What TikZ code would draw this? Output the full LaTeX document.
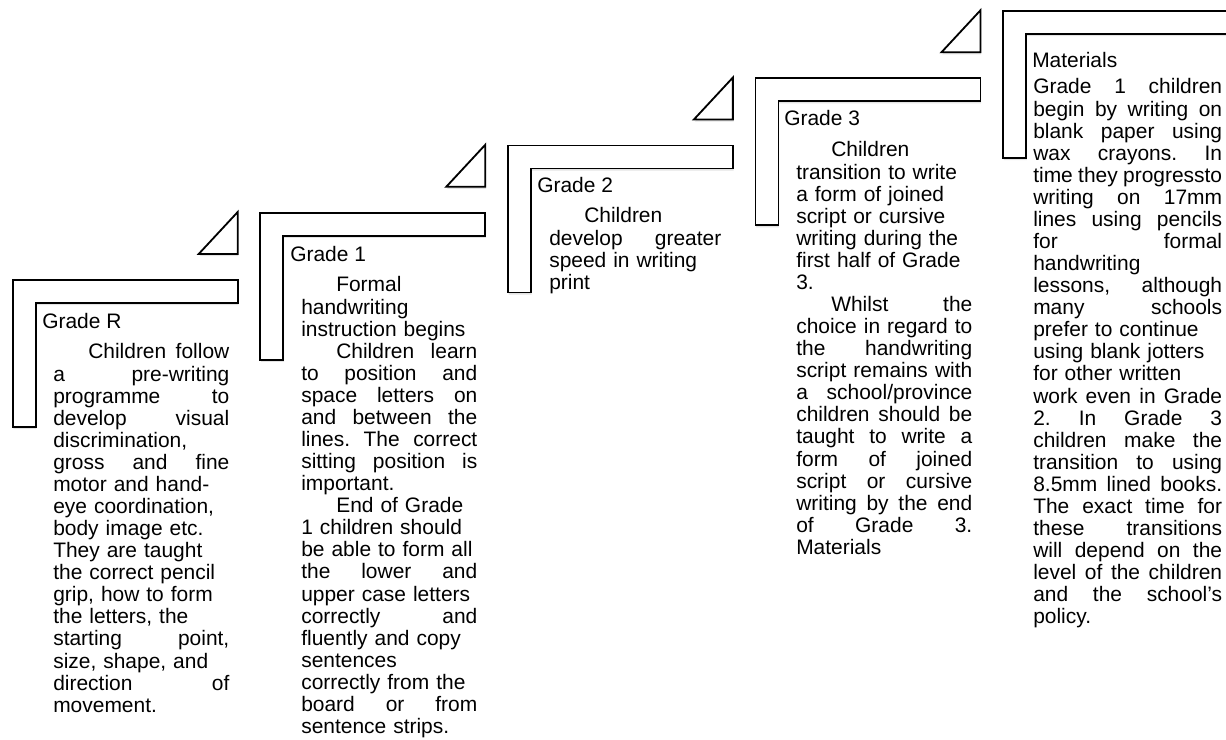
\documentclass[tikz,border=0pt]{standalone}
\usepackage{fontspec}
\setmainfont{Liberation Sans}
\usepackage{xcolor}
\usepackage{tikz}
\usetikzlibrary{shadows}

\newcommand{\gfont}{\fontsize{14.9pt}{15.7pt}\selectfont\frenchspacing}
\newlength{\bw}
\newcommand{\jl}[1]{{\spaceskip=0pt\relax\xspaceskip=0pt\relax\makebox[\bw][s]{#1}}}
\newlength{\ind}
\setlength{\ind}{0.875cm}

\tikzset{
  corner/.style={draw, line width=1.3pt, fill=white, line join=miter,
    drop shadow={opacity=0.22, shadow xshift=0.5pt, shadow yshift=-1.6pt}},
  ttl/.style={inner sep=0pt, anchor=base west, font=\gfont},
  bdy/.style={ttl, text width=#1, align=left,
    execute at begin node={\setlength{\bw}{#1}}},
  bdy/.default=4.4cm,
}

\begin{document}
\begin{tikzpicture}[x=0.025cm, y=-0.025cm]
  \useasboundingbox (0,0) rectangle (1226,740);
  \clip (0,0) rectangle (1226,740);

  \foreach \i in {0,...,4} {
    \pgfmathsetmacro\xo{12.7+247.6*\i}
    \pgfmathsetmacro\yo{280-67.25*\i}
    \draw[corner] (\xo,\yo) -- ++(225,0) -- ++(0,23) -- ++(-202,0) -- ++(0,124) -- ++(-23,0) -- cycle;
  }
  \foreach \i in {0,...,3} {
    \pgfmathsetmacro\xo{12.7+247.6*\i}
    \pgfmathsetmacro\yo{280-67.25*\i}
    \draw[corner] (\xo+225,\yo-26) -- ++(0,-42) -- ++(-39,42) -- cycle;
  }

  % Grade R
  \node[ttl] (tR) at (42,329) {Grade R};
  \node[bdy] (bR) at (53,359) {\jl{\hspace*{\ind}Children follow}\\
    \jl{a pre-writing}\\
    \jl{programme to}\\
    \jl{develop visual}\\
    discrimination,\\
    \jl{gross and fine}\\
    motor and hand-\\
    eye coordination,\\
    body image etc.\\
    They are taught\\
    the correct pencil\\
    grip, how to form\\
    the letters, the\\
    \jl{starting point,}\\
    size, shape, and\\
    \jl{direction of}\\
    movement.};

  % Grade 1
  \node[ttl] (t1) at (290,262) {Grade 1};
  \node[bdy] (b1) at (301,292) {\hspace*{\ind}Formal\\
    handwriting\\
    instruction begins\\
    \jl{\hspace*{\ind}Children learn}\\
    \jl{to position and}\\
    \jl{space letters on}\\
    \jl{and between the}\\
    \jl{lines. The correct}\\
    \jl{sitting position is}\\
    important.\\
    \hspace*{\ind}End of Grade\\
    1 children should\\
    be able to form all\\
    \jl{the lower and}\\
    upper case letters\\
    \jl{correctly and}\\
    fluently and copy\\
    sentences\\
    correctly from the\\
    \jl{board or from}\\
    sentence strips.};

  % Grade 2
  \node[ttl] (t2) at (537,193) {Grade 2};
  \node[bdy=4.3cm] (b2) at (549,223) {\hspace*{\ind}Children\\
    \jl{develop greater}\\
    speed in writing\\
    print};

  % Grade 3
  \node[ttl] (t3) at (784,126) {Grade 3};
  \node[bdy] (b3) at (796,157) {\hspace*{\ind}Children\\
    transition to write\\
    a form of joined\\
    script or cursive\\
    writing during the\\
    first half of Grade\\
    3.\\
    \jl{\hspace*{\ind}Whilst the}\\
    \jl{choice in regard to}\\
    \jl{the handwriting}\\
    \jl{script remains with}\\
    \jl{a school/province}\\
    \jl{children should be}\\
    \jl{taught to write a}\\
    \jl{form of joined}\\
    \jl{script or cursive}\\
    \jl{writing by the end}\\
    \jl{of Grade 3.}\\
    Materials};

  % Materials
  \node[ttl] (tM) at (1032,68) {Materials};
  \node[bdy=4.72cm] (bM) at (1033,94) {\jl{Grade 1 children}\\
    \jl{begin by writing on}\\
    \jl{blank paper using}\\
    \jl{wax crayons. In}\\
    \jl{time they progressto}\\
    \jl{writing on 17mm}\\
    \jl{lines using pencils}\\
    \jl{for formal}\\
    handwriting\\
    \jl{lessons, although}\\
    \jl{many schools}\\
    prefer to continue\\
    using blank jotters\\
    for other written\\
    \jl{work even in Grade}\\
    \jl{2. In Grade 3}\\
    \jl{children make the}\\
    \jl{transition to using}\\
    \jl{8.5mm lined books.}\\
    \jl{The exact time for}\\
    \jl{these transitions}\\
    \jl{will depend on the}\\
    \jl{level of the children}\\
    \jl{and the school’s}\\
    policy.};
\end{tikzpicture}
\end{document}
